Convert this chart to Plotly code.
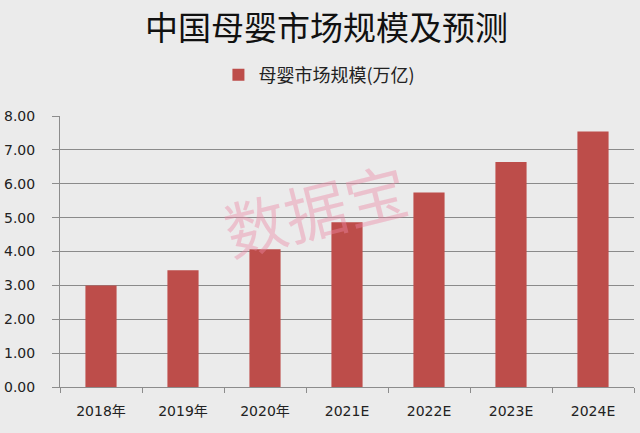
import plotly.graph_objects as go

categories = ["2018年", "2019年", "2020年", "2021E", "2022E", "2023E", "2024E"]
values = [3.00, 3.45, 4.07, 4.86, 5.74, 6.64, 7.54]
series_name = "母婴市场规模(万亿)"
title_text = "中国母婴市场规模及预测"
y_ticks = [0, 1, 2, 3, 4, 5, 6, 7, 8]

bg = "#ebebeb"
bar_color = "#bd4d4a"

fig = go.Figure()
fig.add_trace(go.Bar(
    x=categories, y=values, name=series_name,
    marker=dict(color=bar_color, line=dict(width=0)),
    showlegend=True,
))

fig.update_layout(
    width=640, height=433,
    paper_bgcolor=bg, plot_bgcolor=bg,
    margin=dict(l=60, r=6, t=116, b=46),
    bargap=0.62,
    font=dict(family="DejaVu Sans, Noto Sans CJK SC", size=14, color="#222"),
    title=dict(text=title_text, x=0.51, xanchor="center", y=0.935, yanchor="middle",
               font=dict(family="Noto Sans CJK SC", size=33, color="#111")),
    legend=dict(orientation="h", x=0.276, xanchor="left", y=0.151 + 1, yanchor="middle",
                font=dict(family="Noto Sans CJK SC", size=18, color="#222"),
                bgcolor="rgba(0,0,0,0)", itemwidth=30),
    xaxis=dict(
        type="category", showgrid=False, showline=True, linecolor="#8c8c8c", linewidth=1,
        ticks="outside", ticklen=5, tickcolor="#8c8c8c", tickson="boundaries",
        tickfont=dict(family="DejaVu Sans, Noto Sans CJK SC", size=14, color="#222"),
        ticklabelstandoff=11, automargin=False,
    ),
    yaxis=dict(
        range=[0, 8], tickvals=y_ticks, tickformat=".2f",
        showgrid=True, gridcolor="#8a8a8a", gridwidth=1,
        showline=True, linecolor="#8c8c8c", linewidth=1,
        ticks="outside", ticklen=7, tickcolor="#8c8c8c",
        tickfont=dict(family="DejaVu Sans", size=14, color="#222"),
        ticklabelstandoff=14, zeroline=False, automargin=False,
    ),
)

fig.add_annotation(
    text="数据宝", x=0.445, y=0.66, xref="paper", yref="paper",
    showarrow=False, textangle=-14,
    font=dict(family="Noto Sans CJK SC", size=62, color="rgba(235,135,165,0.42)"),
)

fig.write_html(
    "out.html",
    config={"displayModeBar": False},
    post_script="document.body.style.margin='0';document.body.style.background='#ebebeb';",
)
